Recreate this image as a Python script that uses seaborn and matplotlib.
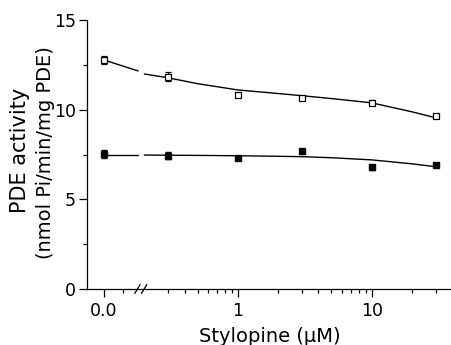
import numpy as np
import pandas as pd
import matplotlib
matplotlib.use('Agg')
import matplotlib.pyplot as plt
import seaborn as sns

# --- data ---
conc = [0, 0.3, 1, 3, 10, 30]                      # Stylopine (uM)
open_vals = [12.77, 11.84, 10.82, 10.67, 10.39, 9.62]
open_err = [0.22, 0.25, 0.12, 0.1, 0.15, 0.1]
filled_vals = [7.53, 7.44, 7.33, 7.70, 6.79, 6.92]
filled_err = [0.2, 0.2, 0.1, 0.08, 0.15, 0.08]

# fitted curves (left piece: at 0 and at the axis break; right piece: log part)
open_left = [12.77, 12.16]
filled_left = [7.47, 7.47]
curve_conc = [0.2, 0.3, 0.5, 1, 2, 3, 5, 10, 20, 30]
open_curve = [11.99, 11.78, 11.45, 11.1, 10.9, 10.78, 10.62, 10.38, 9.88, 9.55]
filled_curve = [7.47, 7.46, 7.45, 7.43, 7.40, 7.38, 7.32, 7.2, 6.98, 6.82]

x_ticks = [0, 1, 10]
x_ticklabels = ['0.0', '1', '10']
y_ticks = [0, 5, 10, 15]

ZERO_POS = -1.0      # where "0.0" sits on the log10 axis
BREAK_POS = -0.72


def to_u(c):
    c = np.asarray(c, dtype=float)
    return np.where(c > 0, np.log10(np.where(c > 0, c, 1)), ZERO_POS)


sns.set_style('ticks')
plt.rcParams['font.family'] = ['DejaVu Sans']
for k in ['text.color', 'axes.labelcolor', 'xtick.color', 'ytick.color', 'axes.edgecolor']:
    plt.rcParams[k] = 'black'

fig = plt.figure(figsize=(4.52, 3.45), dpi=100)
ax = fig.add_axes([87 / 452, 1 - 289 / 345, 365 / 452, 269 / 345])

# curves
left_u = [ZERO_POS, BREAK_POS - 0.025]
for left, right in [(open_left, open_curve), (filled_left, filled_curve)]:
    sns.lineplot(x=left_u, y=left, ax=ax, color='black', lw=1.0)
    sns.lineplot(x=to_u(curve_conc), y=right, ax=ax, color='black', lw=1.0)

# points with error bars
ax.errorbar(to_u(conc), open_vals, yerr=open_err, fmt='s', ms=4.5, mfc='white',
            mec='black', mew=0.9, ecolor='black', elinewidth=0.8, capsize=2, zorder=3)
ax.errorbar(to_u(conc), filled_vals, yerr=filled_err, fmt='s', ms=4.5, mfc='black',
            mec='black', ecolor='black', elinewidth=0.8, capsize=2, zorder=3)

# axes
ax.set_xlim(-1.127, 1.6)
ax.set_ylim(0, 15)
sns.despine(ax=ax)
for s in ['left', 'bottom']:
    ax.spines[s].set_linewidth(0.9)

ax.set_xticks(to_u(x_ticks))
ax.set_xticklabels(x_ticklabels, fontsize=12.5)
minor_c = [0.3, 0.4, 0.5, 0.6, 0.7, 0.8, 0.9, 2, 3, 4, 5, 6, 7, 8, 9, 20, 30]
ax.set_xticks(list(np.log10(minor_c)) + [ZERO_POS + 0.14], minor=True)
ax.set_yticks(y_ticks)
ax.set_yticks([2.5, 7.5, 12.5], minor=True)
ax.tick_params(axis='y', labelsize=12.5, pad=2)
ax.tick_params(which='major', length=6, width=0.9, direction='out')
ax.tick_params(which='minor', length=3, width=0.9, direction='out')

# axis break marks
for dx in (-0.03, 0.02):
    ax.plot([BREAK_POS + dx - 0.02, BREAK_POS + dx + 0.02], [-0.25, 0.25],
            color='black', lw=0.9, clip_on=False)

ax.set_xlabel('Stylopine (μM)', fontsize=14, labelpad=5)
fig.text(20 / 452, 1 - 150 / 345, 'PDE activity', rotation=90, fontsize=15,
         ha='center', va='center')
fig.text(46 / 452, 1 - 153 / 345, '(nmol Pi/min/mg PDE)', rotation=90,
         fontsize=14, ha='center', va='center')

fig.savefig('out.png', dpi=100)
